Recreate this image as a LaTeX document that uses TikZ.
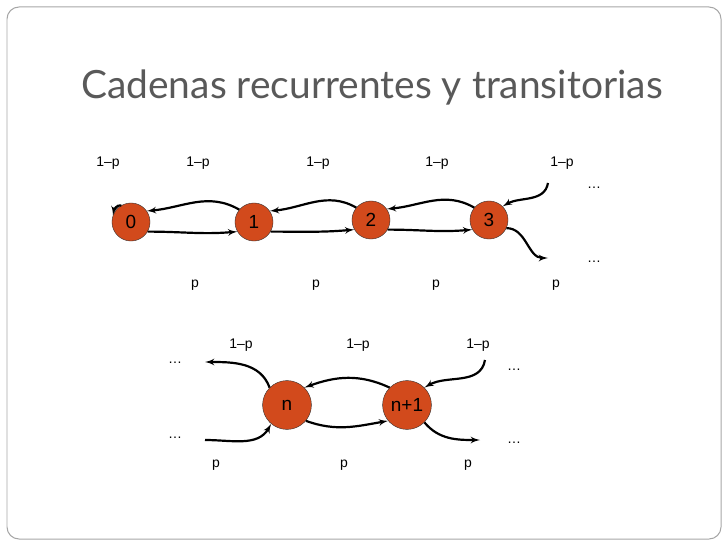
\documentclass[tikz,border=0pt]{standalone}
\usepackage{fontspec}
\setmainfont{Liberation Sans}
\newfontfamily\titlefont{Lato}
\usetikzlibrary{arrows}
\definecolor{stateorange}{HTML}{D24A1C}
\begin{document}
\begin{tikzpicture}[x=0.0352cm,y=-0.0352cm]
        \tikzset{st_node/.style = {circle,draw=black!80,fill=stateorange,inner sep=0pt,minimum size=1.34cm,font=\fontsize{19}{19}\selectfont}}
        \tikzset{big_node/.style = {st_node,minimum size=1.72cm}}
        \tikzset{tr_edge/.style = {->,> = latex',color=black,line width=2.2pt}}
        \tikzset{lbl/.style = {font=\fontsize{14}{14}\selectfont}}
        \useasboundingbox (0,0) rectangle (728,546);
        \draw[gray!70,line width=1pt,rounded corners=12] (7,7) rectangle (721,539);
        \node[text=gray!70!black,font=\titlefont\fontsize{39}{39}\selectfont] (title) at (372,88) {Cadenas recurrentes y transitorias};

        \node[st_node] (s0) at (131,222) {0};
        \node[st_node] (s1) at (254,222) {1};
        \node[st_node] (s2) at (371,220) {2};
        \node[st_node] (s3) at (489,220) {3};
        \node[big_node] (sn) at (287,405) {n};
        \node[big_node] (sn1) at (407,405) {n+1};

        \coordinate (in3) at (548,183);
        \coordinate (out3) at (548,258);
        \coordinate (ina) at (205,440);
        \coordinate (outa) at (205,362);
        \coordinate (inb) at (485,360);
        \coordinate (outb) at (480,440);

        \foreach \a/\b in {s0/s1,s1/s2,s2/s3} {
            \draw[tr_edge] (\a.-30) to[out=0,in=185] (\b.-150);
            \draw[tr_edge] (\b.140) to[out=150,in=5] (\a.35);
        }
        \draw[tr_edge] (s0.120) to[out=170,in=80] (s0.160);
        \draw[tr_edge] (in3) to[out=260,in=30] (s3.45);
        \draw[tr_edge] (s3.-25) to[out=0,in=180] (out3);
        \draw[tr_edge] (sn.-40) to[out=-20,in=190] (sn1.-140);
        \draw[tr_edge] (sn1.135) to[out=155,in=20] (sn.45);
        \draw[tr_edge] (sn.135) to[out=110,in=0] (outa);
        \draw[tr_edge] (ina) to[out=0,in=240] (sn.-130);
        \draw[tr_edge] (inb) to[out=260,in=30] (sn1.45);
        \draw[tr_edge] (sn1.-45) to[out=-50,in=180] (outb);

        \foreach \x/\n in {108/a,198/b,318/c,437/d,562/e}
            \node[lbl] (q\n) at (\x,163) {1--p};
        \foreach \x/\n in {195/a,316/b,436/c,556/d}
            \node[lbl] (p\n) at (\x,285) {p};
        \foreach \x/\n in {241/a,358/b,478/c}
            \node[lbl] (bq\n) at (\x,345) {1--p};
        \foreach \x/\n in {216/a,344/b,468/c}
            \node[lbl] (bp\n) at (\x,465) {p};
        \foreach \x/\y/\n in {594/188/a,594/262/b,175/363/c,175/438/d,514/370/e,514/443/f}
            \node[lbl] (d\n) at (\x,\y) {\dots};
\end{tikzpicture}
\end{document}
